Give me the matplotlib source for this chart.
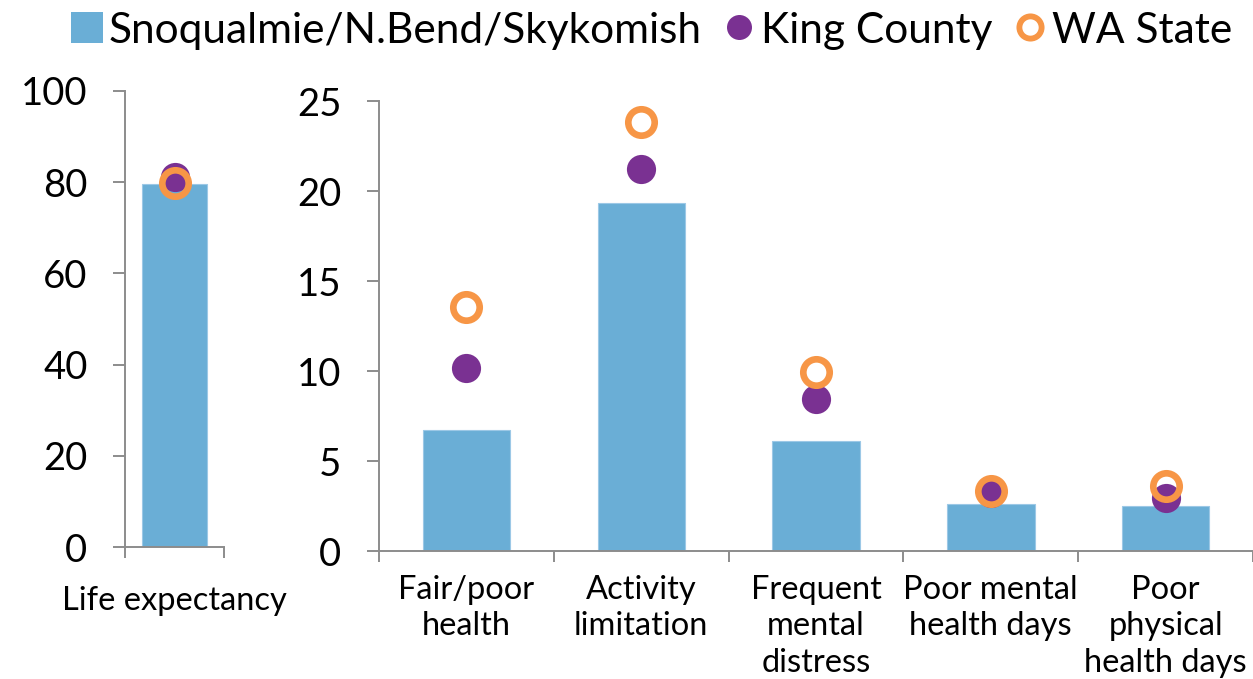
import matplotlib
matplotlib.use("Agg")
import matplotlib.pyplot as plt
from matplotlib.lines import Line2D
from matplotlib.patches import Patch

plt.rcParams['font.family'] = ['Lato', 'DejaVu Sans']

# ---- data ----
left_categories = ["Life expectancy"]
left_local = [79.5]
left_king = [81.2]
left_state = [79.8]

categories = ["Fair/poor\nhealth", "Activity\nlimitation", "Frequent\nmental\ndistress",
              "Poor mental\nhealth days", "Poor\nphysical\nhealth days"]
local = [6.7, 19.35, 6.1, 2.6, 2.5]
king = [10.15, 21.25, 8.45, 3.2, 2.95]
state = [13.55, 23.85, 9.95, 3.35, 3.6]

left_yticks = [0, 20, 40, 60, 80, 100]
right_yticks = [0, 5, 10, 15, 20, 25]

series_names = ["Snoqualmie/N.Bend/Skykomish", "King County", "WA State"]

BAR = "#6AAED6"
PURPLE = "#7A3192"
ORANGE = "#F79646"
GRAY = "#8C8C8C"

fig = plt.figure(figsize=(12.53, 6.79), dpi=100)
axL = fig.add_axes([125/1253, 0.1944, 99/1253, 0.6716])
axR = fig.add_axes([379/1253, 0.1885, 874/1253, 0.6627])

for ax, cats, loc, kc, st, ymax, yt, bw, xpad in [
    (axL, left_categories, left_local, left_king, left_state, 100, left_yticks, 0.66, 28),
    (axR, categories, local, king, state, 25, right_yticks, 0.5, 17),
]:
    x = list(range(len(cats)))
    ax.bar(x, loc, width=bw, color=BAR, edgecolor="#9CC8E6", linewidth=0.8, zorder=2)
    ax.plot(x, kc, linestyle="none", marker="o", markersize=21, color=PURPLE,
            markeredgewidth=0, zorder=3)
    ax.plot(x, st, linestyle="none", marker="o", markersize=19, markerfacecolor="none",
            markeredgecolor=ORANGE, markeredgewidth=4.8, zorder=4)
    ax.set_xlim(-0.5, len(cats) - 0.5)
    ax.set_ylim(0, ymax)
    ax.set_yticks(yt)
    ax.set_yticklabels([str(v) for v in yt], fontsize=27.5)
    ax.set_xticks(x)
    ax.set_xticklabels(cats, fontsize=23.5, linespacing=1.28)
    ax.set_xticks([i - 0.5 for i in range(len(cats) + 1)], minor=True)
    ax.tick_params(axis="x", which="major", length=0, pad=xpad)
    ax.tick_params(axis="x", which="minor", length=8, width=1.4, color=GRAY, direction="out")
    ax.tick_params(axis="y", length=9, width=1.4, color=GRAY, direction="out", pad=18)
    for s in ["top", "right"]:
        ax.spines[s].set_visible(False)
    for s in ["left", "bottom"]:
        ax.spines[s].set_color(GRAY)
        ax.spines[s].set_linewidth(1.4)

handles = [
    Patch(facecolor=BAR, edgecolor="none"),
    Line2D([], [], linestyle="none", marker="o", markersize=18, color=PURPLE, markeredgewidth=0),
    Line2D([], [], linestyle="none", marker="o", markersize=16, markerfacecolor="none",
           markeredgecolor=ORANGE, markeredgewidth=4.2),
]
fig.legend(handles, series_names, loc="center", bbox_to_anchor=(0.52, 0.955), ncol=3,
           frameon=False, fontsize=30.5, handlelength=0.75, handleheight=0.75,
           handletextpad=0.15, columnspacing=0.5, borderaxespad=0)

fig.savefig("out.png", dpi=100)
